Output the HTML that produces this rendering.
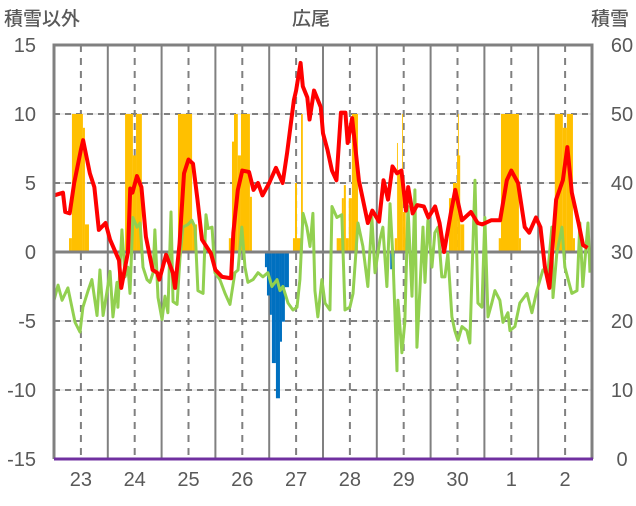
<!DOCTYPE html>
<html><head><meta charset="utf-8"><style>
body{margin:0;background:#fff;width:636px;height:501px;overflow:hidden}
svg text{font-family:"Liberation Sans","Noto Sans CJK JP",sans-serif;fill:#595959}
</style></head><body>
<svg id="c" width="636" height="501"></svg>
<script>
// categories
const dayLabels=["23","24","25","26","27","28","29","30","1","2"];
const leftTicks=[15,10,5,0,-5,-10,-15];
const rightTicks=[60,50,40,30,20,10,0];
// red series (hours from start, value)
const redH=[0,4,5,7,9,12,13,16,18,20,23,25,29,30,33,34,35,37,39,41,44,46,47,50,53,54,56,58,60,62,64,66,70,72,75,79,80,82,84,87,89,91,93,96,99,102,104,107,108,110,111,113,114,116,119,120,122,124,126,128,130,131,133,136,140,142,145,147,149,151,153,155,157,158,160,162,165,167,170,172,174,177,179,182,186,189,191,195,199,202,204,207,210,212,215,217,219,221,224,227,229,231,234,236,238];
const redV=[4.1,4.3,2.9,2.8,5,7.4,8.1,5.7,4.7,1.6,2.1,0.9,-0.6,-2.6,0,4.6,4.3,5.5,4.7,1.1,-1.3,-1.5,-2,-0.2,-1.5,-2.6,0.6,5.7,6.7,6.4,3.8,0.9,-0.1,-1.3,-1.8,-1.9,1.4,4.5,5.9,5.8,4.5,5,4.1,5,6.1,5,7.2,11,11.7,13.7,12,11.2,9.6,11.7,10.5,8.6,7.4,5.9,5.2,10.1,10.1,7.9,9.7,5.2,2.1,3,2.2,5.2,3.8,6.2,5.7,5.9,3,4.7,2.8,3.4,3.3,2.5,3.3,2.1,0,2.8,4.5,2.3,2.9,2.1,2,2.3,2.3,5.2,5.9,5,1.8,1.4,2.5,1.8,-1.1,-2.6,3.8,5.2,7.6,4.3,2.1,0.5,0.3];
// green series
const greenH=[0,1.8,3.6,6.2,9.4,11.6,12.9,15.2,16.9,19.2,20.5,21.9,23.6,25,26.3,28.1,28.5,30.3,31.7,33,33.9,35.2,37,38.4,39.7,41.5,42.8,44.2,45,46.4,48.2,49.5,50.8,52.2,53.1,54.9,56.2,57.5,59.8,61.5,62.9,64.2,66.5,67.8,68.7,70.5,71.8,74,76.3,78.5,80.7,82.1,83.8,85.2,86.5,88.8,91,93.2,95.4,97.2,99.5,100.8,102.1,104.4,106.6,108.4,109.7,111.1,112.8,114.2,115.5,116.4,117.7,119.5,120.9,123.1,124,126.2,128.4,129.8,132,133.4,135.6,137.8,140,141.8,143.2,145.4,146.7,148.5,149.9,151.2,153,153.4,155.2,156.5,157.9,159.7,161,161.9,163.2,164.6,165.5,166.8,168.6,169.9,171.3,173,174.4,175.7,177.5,178.8,180.2,182,184.2,185.5,187.8,189.1,190.9,192.2,193.6,195.3,196.7,198.9,200.3,202.5,203.4,205.6,207.8,211,213.2,215.4,218.1,220.3,222.1,222.6,224.3,226.6,227.9,231,233.3,234.6,235.9,238.2,239.1];
const greenV=[-3.5,-2.4,-3.5,-2.6,-5.1,-5.8,-4,-2.8,-2,-4.6,-1.3,-4.6,-2.9,-1.4,-4.7,-2.2,-4,1.6,-1.8,-1.1,-3,2.5,1.8,2.1,-1.1,-2,-2.2,-1.5,1.6,-3.3,-4.9,-3.2,-4.4,2.9,-3.6,-3.8,-0.4,1.8,2,2.3,1.8,-2.8,-3,2.7,1.7,1.8,-1.5,-2,-3,-3.8,-1.5,-1.3,1.8,-1.1,-2.2,-2,-1.5,-1.8,-1.5,-2.5,-2,-2.8,-2.5,-3.7,-4.2,-4,-2,2.8,1.8,0.4,2.8,-2.8,-4.7,-2,-3.7,-4.2,3.3,2.5,2.7,-4.2,-4,-3,2.1,0.4,-2.5,2.5,-1.5,0.9,1.8,-2.5,3.5,-0.4,-8.6,-3.5,-7.3,-5.1,3.3,-3.2,4.5,-6.9,-2.8,1.8,-2.2,2.3,-1.1,1.4,1.8,-1.8,-1.8,-0.1,-4.7,-5.7,-6.4,-5.4,-5.7,-6.6,5.2,-3.7,-4,2.5,-4.7,-3.7,-2.8,-3.5,-5.1,-4.4,-5.7,-5.4,-3.7,-3,-4.4,-2.8,-1.3,-1.5,1.8,-3.3,-0.1,1.8,-1.1,-3,-2.8,2.1,-2.5,2.1,-1.5];
// snow bars (right axis): start hour, end hour, value
const snowStart=[6.7,8,12.9,13.8,31.7,35.2,36.6,55.3,61.6,78,79.4,80.3,82,83.4,87.4,106.6,107.5,110.2,126.1,128.4,129.3,130.2,131.5,132.9,152,153,153.4,155.3,155.7,156.9,176.2,178,179.8,180.2,181.2,198.4,199.4,207.4,223.4,227,228.8,231.5];
const snowEnd=[8,12.9,13.8,15.6,35.2,36.6,39.2,61.6,63.8,79.4,80.3,82,83.4,87.4,88.3,110.2,108.4,111,128.4,129.3,130.2,131.5,132.9,135.6,153,153.4,155.3,155.7,156.9,158.8,178,179.8,181.2,180.6,183,199.4,207.4,208.3,227,228.8,231.5,232.4];
const snowVal=[32,50,48,34,50,44,50,50,34,32,46,50,44,50,38,32,40,50,32,37.8,39.7,32,37.8,50,32,45.8,41.9,50,35.8,32,37.8,40,44,50,34,32,50,32,50,48,50,32];
const meltStart=[94.1,95,96.3,97.2,99,100.8,101.7,103,150,151,160];
const meltEnd=[95,96.3,97.2,99,100.8,101.7,103,104.8,151,152,160.6];
const meltVal=[27.8,23.7,20.9,13.9,8.8,17,19.9,24.9,27.5,27,28.5];

const X0=54,X1=592,Y0=45,Y1=459,HRS=240;
const xS=h=>X0+h*(X1-X0)/HRS;
const yL=v=>Y0+(15-v)*(Y1-Y0)/30;
const yR=v=>Y0+(60-v)*(Y1-Y0)/60;
const svg=document.getElementById('c');
const NS='http://www.w3.org/2000/svg';
function mk(t,a){const e=document.createElementNS(NS,t);for(const k in a)e.setAttribute(k,a[k]);svg.appendChild(e);return e;}

leftTicks.forEach(v=>{
  if(v===15||v===-15||v===0)return;
  const g=mk('line',{x1:X0,x2:X1,y1:yL(v),y2:yL(v),stroke:'#d9d9d9','stroke-width':1});
  
  
  const d=mk('line',{x1:X0,x2:X1,y1:yL(v),y2:yL(v),stroke:'#808080','stroke-width':2,'stroke-dasharray':'6,5'});
  
  
});
for(let d=1;d<10;d++){
  const l=mk('line',{x1:xS(d*24),x2:xS(d*24),y1:Y0,y2:Y1,stroke:'#808080','stroke-width':2});
  
  
}
dayLabels.forEach((lab,i)=>{
  const x=xS(i*24+12);
  const l=mk('line',{x1:x,x2:x,y1:Y0,y2:Y1,stroke:'#808080','stroke-width':2,'stroke-dasharray':'7,6'});
  
  
  const t=mk('text',{x:x,y:486,'font-size':20,'text-anchor':'middle'});
  t.textContent=lab;
  
  
});
snowStart.forEach((s,i)=>{
  const y=yR(snowVal[i]),b=yR(30);
  const r=mk('rect',{x:xS(s),y:y,width:xS(snowEnd[i])-xS(s),height:b-y,fill:'#ffc000'});
  
  
});
meltStart.forEach((s,i)=>{
  const b=yR(meltVal[i]),t=yR(30);
  const r=mk('rect',{x:xS(s),y:t,width:xS(meltEnd[i])-xS(s),height:b-t,fill:'#0070c0'});
  
  
});
const z=mk('line',{x1:X0,x2:X1,y1:yL(0),y2:yL(0),stroke:'#808080','stroke-width':3});


const gp=mk('polyline',{points:greenH.map((h,i)=>xS(h)+','+yL(greenV[i])).join(' '),fill:'none',stroke:'#92d050','stroke-width':3,'stroke-linejoin':'round'});


const rp=mk('polyline',{points:redH.map((h,i)=>xS(h)+','+yL(redV[i])).join(' '),fill:'none',stroke:'#ff0000','stroke-width':4,'stroke-linejoin':'round'});


const bd=mk('path',{d:`M${X0},${Y1} L${X0},${Y0} L${X1},${Y0} L${X1},${Y1}`,fill:'none',stroke:'#808080','stroke-width':3});


const pb=mk('line',{x1:X0,x2:X1+1,y1:Y1,y2:Y1,stroke:'#7030a0','stroke-width':3});


leftTicks.forEach(v=>{
  const t=mk('text',{x:36,y:yL(v)+7,'font-size':20,'text-anchor':'end'});
  t.textContent=v;
  
  
});
rightTicks.forEach(v=>{
  const t=mk('text',{x:622,y:yR(v)+7,'font-size':20,'text-anchor':'middle'});
  t.textContent=v;
  
  
});
const t1=mk('text',{x:4,y:25,'font-size':19,'font-weight':500});t1.textContent='積雪以外';


const t2=mk('text',{x:311,y:25,'font-size':19,'text-anchor':'middle','font-weight':500});t2.textContent='広尾';


const t3=mk('text',{x:610,y:25,'font-size':19,'text-anchor':'middle','font-weight':500});t3.textContent='積雪';


</script>
</body></html>
